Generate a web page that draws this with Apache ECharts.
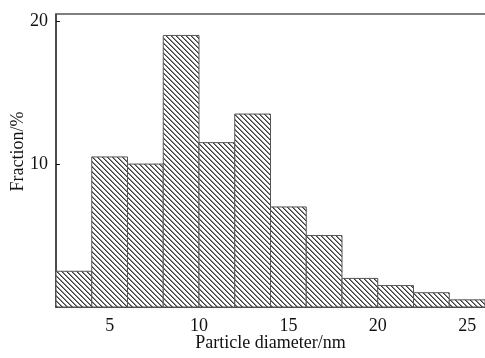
<!DOCTYPE html>
<html><head><meta charset="utf-8">
<script src="https://cdn.jsdelivr.net/npm/echarts@6/dist/echarts.min.js"></script>
<style>html,body{margin:0;padding:0;background:#fff}#c{width:485px;height:358px}</style>
</head><body><div id="c"></div>
<script>
const binStart = [2, 4, 6, 8, 10, 12, 14, 16, 18, 20, 22, 24];
const binEnd   = [4, 6, 8, 10, 12, 14, 16, 18, 20, 22, 24, 26];
const fraction = [2.5, 10.5, 10, 19, 11.5, 13.5, 7, 5, 2, 1.5, 1, 0.5];
const xMajorTicks = [5, 10, 15, 20, 25];
const xMinorTicks = [2.5, 7.5, 12.5, 17.5, 22.5];
const yTicks = [10, 20];

const P = 5;
const pc = document.createElement('canvas');
pc.width = P; pc.height = P;
const g = pc.getContext('2d');
g.fillStyle = '#fff'; g.fillRect(0, 0, P, P);
for (let y = 0; y < P; y++) {
  g.fillStyle = '#3c3c3c'; g.fillRect(y, y, 1, 1);
  g.fillStyle = '#8a8a8a'; g.fillRect((y + 1) % P, y, 1, 1);
}
const pattern = { image: pc, repeat: 'repeat' };

const data = binStart.map((s, i) => [s, binEnd[i], fraction[i]]);
const font = '"Liberation Serif", "Times New Roman", serif';

const chart = echarts.init(document.getElementById('c'), null, { renderer: 'canvas' });
chart.setOption({
  animation: false,
  backgroundColor: '#fff',
  grid: { left: 56, right: 0, top: 14, bottom: 51, containLabel: false, outerBoundsMode: 'none' },
  xAxis: [
    {
      type: 'value', position: 'bottom', min: 2, max: 26,
      name: 'Particle diameter/nm', nameLocation: 'middle', nameGap: 27, nameMoveOverlap: false,
      nameTextStyle: { fontFamily: font, fontSize: 18, color: '#111' },
      axisLine: { show: true, lineStyle: { color: '#111', width: 1.5 } },
      axisTick: { show: true, inside: true, length: 4, customValues: xMajorTicks, lineStyle: { color: '#111' } },
      axisLabel: { customValues: xMajorTicks, fontFamily: font, fontSize: 18, color: '#111', margin: 10 },
      splitLine: { show: false }
    },
    {
      type: 'value', position: 'bottom', min: 2, max: 26,
      axisLine: { show: false },
      axisTick: { show: true, inside: true, length: 3, customValues: xMinorTicks, lineStyle: { color: '#111' } },
      axisLabel: { show: false },
      splitLine: { show: false }
    },
    {
      type: 'value', position: 'top', min: 2, max: 26,
      axisLine: { show: true, lineStyle: { color: '#555', width: 1.5 } },
      axisTick: { show: false }, axisLabel: { show: false }, splitLine: { show: false }
    }
  ],
  yAxis: {
    type: 'value', min: 0, max: 20.5,
    name: 'Fraction/%', nameLocation: 'middle', nameGap: 29, nameRotate: 90, nameMoveOverlap: false,
    nameTextStyle: { fontFamily: font, fontSize: 18, color: '#111', padding: [0, 0, 0, 18] },
    axisLine: { show: true, lineStyle: { color: '#111', width: 1.5 } },
    axisTick: { show: true, inside: true, length: 4, customValues: yTicks, lineStyle: { color: '#111' } },
    axisLabel: { customValues: yTicks, fontFamily: font, fontSize: 18, color: '#111', margin: 8 },
    splitLine: { show: false }
  },
  series: [{
    type: 'custom',
    xAxisIndex: 0, yAxisIndex: 0,
    data: data,
    encode: { x: [0, 1], y: 2 },
    renderItem: function (params, api) {
      const p0 = api.coord([api.value(0), api.value(2)]);
      const p1 = api.coord([api.value(1), 0]);
      return {
        type: 'rect',
        shape: { x: p0[0], y: p0[1], width: p1[0] - p0[0], height: p1[1] - p0[1] },
        style: { fill: pattern, stroke: '#555', lineWidth: 1 }
      };
    }
  }]
});
</script></body></html>
